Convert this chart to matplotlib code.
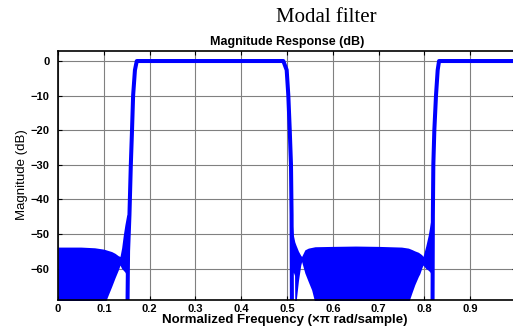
import matplotlib
matplotlib.use('Agg')
import matplotlib.pyplot as plt

plt.rcParams['font.family'] = ['Liberation Sans', 'DejaVu Sans']

# passband / transition curve (normalized freq, dB)
main_f = [0.1510, 0.1530, 0.1560, 0.1590, 0.1616, 0.1640, 0.1680, 0.1720,
          0.3300, 0.4920, 0.4993, 0.5029, 0.5060, 0.5087, 0.5100, 0.5110,
          0.8175, 0.8185, 0.8195, 0.8217, 0.8253, 0.8290, 0.8320, 1.0]
main_db = [-80, -55, -44.5, -30, -20, -10, -2.6, 0,
           0, 0, -2.6, -10, -20, -30, -44.5, -80,
           -80, -44.5, -30, -20, -10, -2.6, 0, 0]

# stopband 1: dense ripple, upper and lower envelope
sb1_f = [0.0, 0.05, 0.08, 0.100, 0.1026, 0.1098, 0.1172, 0.1245, 0.1317,
         0.1354, 0.139, 0.1426, 0.146, 0.1500, 0.1530]
sb1_hi = [-53.8, -53.8, -54.0, -54.4, -54.5, -54.8, -55.1, -55.6, -56.3,
          -56.5, -54.0, -50.3, -47.4, -44.5, -44.5]
sb1_lo = [-70, -70, -70, -70, -70, -67.6, -65.2, -62.7, -60.4,
          -59.0, -60.0, -60.5, -61, -62, -62]

# stopband 2
sb2_f = [0.5070, 0.5098, 0.5138, 0.5165, 0.5170, 0.5195, 0.5250, 0.5300,
         0.532, 0.539, 0.5465, 0.5539, 0.5611, 0.60, 0.65, 0.70, 0.75,
         0.765, 0.7725, 0.779, 0.7868, 0.790, 0.7941, 0.797, 0.8030, 0.8085,
         0.8122, 0.8159, 0.8180]
sb2_hi = [-44.5, -44.5, -50.3, -52.0, -52.3, -53.2, -55.0, -56.2,
          -56.5, -54.6, -54.1, -53.9, -53.7, -53.6, -53.5, -53.6, -53.8,
          -54.1, -54.5, -54.9, -55.3, -55.6, -56.0, -56.5, -53.5, -50.3,
          -47.4, -44.5, -44.5]
sb2_lo = [-62, -62, -61, -62, -70, -70, -63.5, -59.0,
          -58, -61.3, -63.8, -66.2, -70, -70, -70, -70, -70,
          -70, -67.1, -64.7, -62.3, -61.5, -59.9, -59, -60, -60.5,
          -61, -62, -62]

xticks = [0, 0.1, 0.2, 0.3, 0.4, 0.5, 0.6, 0.7, 0.8, 0.9]
xlabels = ['0', '0.1', '0.2', '0.3', '0.4', '0.5', '0.6', '0.7', '0.8', '0.9']
yticks = [-60, -50, -40, -30, -20, -10, 0]

fig = plt.figure(figsize=(5.13, 3.28), dpi=100)
ax = fig.add_axes([58 / 513, 28 / 328, 458 / 513, 249 / 328])

blue = '#0000ff'
ax.fill_between(sb1_f, sb1_lo, sb1_hi, color=blue, lw=0)
ax.fill_between(sb2_f, sb2_lo, sb2_hi, color=blue, lw=0)
ax.plot(main_f, main_db, color=blue, lw=2.9, solid_joinstyle='round')

ax.set_xlim(0, 1)
ax.set_ylim(-69.1, 2.9)
ax.set_xticks(xticks)
ax.set_xticklabels(xlabels)
ax.set_yticks(yticks)
ax.grid(True, color='#808080', lw=0.8)
ax.set_axisbelow(True)
ax.tick_params(direction='in', length=3, width=0.8, top=True, right=True,
               labelsize=8)
ax.tick_params(axis='x', pad=3)
ax.tick_params(axis='y', pad=6)
for lab in ax.get_xticklabels() + ax.get_yticklabels():
    lab.set_fontweight('bold')
for sp in ax.spines.values():
    sp.set_linewidth(1.2)

ax.set_title('Magnitude Response (dB)', fontsize=9, fontweight='bold', pad=4)
fig.text(285 / 513, 1 - 320 / 328, 'Normalized Frequency (\u00d7\u03c0 rad/sample)',
         ha='center', va='center', fontsize=9.5, fontweight='bold')
fig.text(22 / 513, 1 - 175 / 328, 'Magnitude (dB)', rotation=90,
         ha='center', va='center', fontsize=9.5)
fig.text(326 / 513, 1 - 17 / 328, 'Modal filter', ha='center', va='center',
         fontsize=15, family='Liberation Serif')

fig.savefig('out.png', dpi=100)
